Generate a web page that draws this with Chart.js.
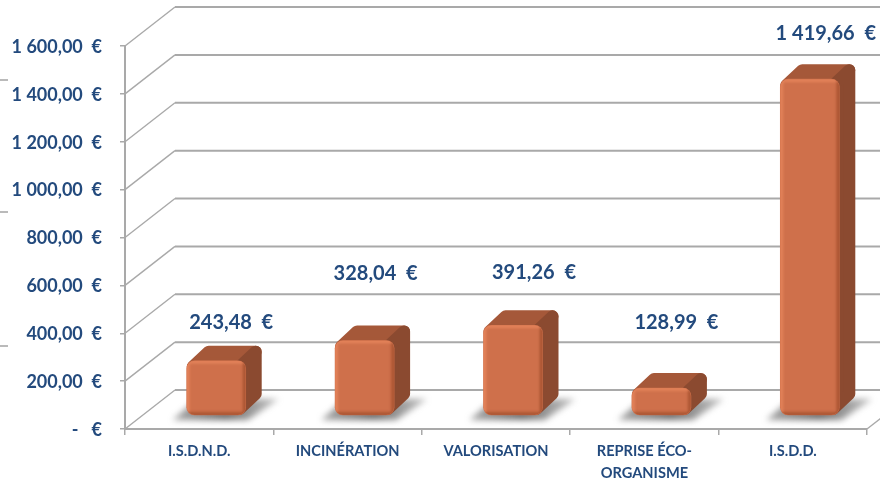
<!DOCTYPE html>
<html>
<head>
<meta charset="utf-8">
<title>Coût par filière</title>
<script src="https://cdn.jsdelivr.net/npm/chart.js@4"></script>
<style>
  html, body { margin: 0; padding: 0; background: #fff; }
  canvas { display: block; filter: blur(0.45px); }
</style>
</head>
<body>
<canvas id="chart" width="891" height="479"></canvas>
<script>
const categories = ['I.S.D.N.D.', 'INCINÉRATION', 'VALORISATION', ['REPRISE ÉCO-', 'ORGANISME'], 'I.S.D.D.'];
const values = [243.48, 328.04, 391.26, 128.99, 1419.66];
const valueLabels = ['243,48  €', '328,04  €', '391,26  €', '128,99  €', '1 419,66  €'];
const yTickLabels = ['-   €', '200,00  €', '400,00  €', '600,00  €', '800,00  €', '1 000,00  €', '1 200,00  €', '1 400,00  €', '1 600,00  €'];

const BLUE = '#234a7d';
const GREY = '#a9a9a9';

// the 3d look: how far the back wall and the bars are pushed
const WALL_DX = 50, WALL_DY = -39;
const BAR_DX = 17, BAR_DY = -10;
const DEPTH_DX = 16, DEPTH_DY = -15;
const RIGHT_EDGE = 880;
// how far each value label sits from its bar
const labelOffsetX = [15, 11, 21, 15, 16];
const labelOffsetY = [-38, -67, -53, -66, -46];

function facePath(ctx, pts) {
  ctx.beginPath();
  pts.forEach((p, i) => i ? ctx.lineTo(p[0], p[1]) : ctx.moveTo(p[0], p[1]));
  ctx.closePath();
}

const wallsAndBoxes = {
  id: 'wallsAndBoxes',
  beforeDatasetsDraw(chart) {
    const ctx = chart.ctx;
    const yScale = chart.scales.y;
    const xScale = chart.scales.x;
    const left = xScale.left, right = xScale.right;

    ctx.save();
    ctx.beginPath();
    ctx.rect(0, 0, RIGHT_EDGE, chart.height);
    ctx.clip();

    // back wall and floor lines
    ctx.strokeStyle = GREY;
    yScale.ticks.forEach((tick) => {
      const y = yScale.getPixelForValue(tick.value);
      ctx.lineWidth = 1.4;
      ctx.beginPath();
      ctx.moveTo(left, y);
      ctx.lineTo(left + WALL_DX, y + WALL_DY);
      ctx.stroke();
      ctx.lineWidth = 2;
      ctx.beginPath();
      ctx.moveTo(left + WALL_DX, y + WALL_DY);
      ctx.lineTo(right + WALL_DX, y + WALL_DY);
      ctx.stroke();
    });
    const y0 = yScale.getPixelForValue(0);
    ctx.lineWidth = 1.4;
    ctx.beginPath();
    ctx.moveTo(right, y0);
    ctx.lineTo(right + WALL_DX, y0 + WALL_DY);
    ctx.stroke();
    ctx.restore();

    // small marks left of the picture
    ctx.save();
    ctx.strokeStyle = '#8c8c8c';
    ctx.lineWidth = 1.2;
    [80, 212, 346].forEach((y) => {
      ctx.beginPath();
      ctx.moveTo(0, y);
      ctx.lineTo(8, y);
      ctx.stroke();
    });
    ctx.restore();

    chart.getDatasetMeta(0).data.forEach((bar) => {
      const l = bar.x - bar.width / 2 + BAR_DX;
      const r = bar.x + bar.width / 2 + BAR_DX;
      const t = bar.y + BAR_DY;
      const b = bar.base + BAR_DY;

      // shadow on the floor, fades out towards the back right
      ctx.save();
      ctx.filter = 'blur(3px)';
      const shade = ctx.createLinearGradient(l - 14, 0, r + 33, 0);
      shade.addColorStop(0, 'rgba(95,95,95,0.55)');
      shade.addColorStop(0.5, 'rgba(85,85,85,0.85)');
      shade.addColorStop(1, 'rgba(120,120,120,0.45)');
      ctx.fillStyle = shade;
      facePath(ctx, [[l - 14, b + 5], [r + 2, b + 5], [r + 33, b - 16], [r - 4, b - 16], [l + 8, b - 14]]);
      ctx.fill();
      ctx.restore();

      // top and side faces
      ctx.save();
      ctx.lineJoin = 'round';
      ctx.lineWidth = 12;
      const inset = 6;
      ctx.fillStyle = ctx.strokeStyle = '#a55839';
      facePath(ctx, [[l + inset, t + inset], [r - inset, t + inset], [r + DEPTH_DX - inset, t + DEPTH_DY + inset], [l + DEPTH_DX + inset, t + DEPTH_DY + inset]]);
      ctx.fill();
      ctx.stroke();
      ctx.fillStyle = ctx.strokeStyle = '#8b4a30';
      facePath(ctx, [[r - inset, t + inset], [r + DEPTH_DX - inset, t + DEPTH_DY + inset], [r + DEPTH_DX - inset, b + DEPTH_DY - inset], [r - inset, b - inset]]);
      ctx.fill();
      ctx.stroke();
      ctx.restore();
    });
  },
  beforeDatasetDraw(chart) {
    chart.ctx.save();
    chart.ctx.translate(BAR_DX, BAR_DY);
  },
  afterDatasetDraw(chart) {
    const ctx = chart.ctx;
    // soft bevel over the front faces
    chart.getDatasetMeta(0).data.forEach((bar) => {
      const l = bar.x - bar.width / 2;
      const w = bar.width;
      const t = bar.y;
      const h = bar.base - bar.y;
      ctx.save();
      ctx.beginPath();
      ctx.roundRect(l, t, w, h, 8);
      ctx.clip();
      ctx.filter = 'blur(1.5px)';
      ctx.lineWidth = 3;
      ctx.strokeStyle = '#a04e2c';
      ctx.beginPath();
      ctx.moveTo(l, bar.base - 1);
      ctx.lineTo(l + w, bar.base - 1);
      ctx.moveTo(l + w - 1, t);
      ctx.lineTo(l + w - 1, bar.base);
      ctx.stroke();
      ctx.strokeStyle = '#e8875d';
      ctx.beginPath();
      ctx.moveTo(l + 1, bar.base - 3);
      ctx.lineTo(l + 1, t + 1);
      ctx.lineTo(l + w - 2, t + 1);
      ctx.stroke();
      ctx.restore();
    });
    ctx.restore();
  },
  afterDatasetsDraw(chart) {
    const ctx = chart.ctx;
    ctx.save();
    ctx.fillStyle = BLUE;
    ctx.font = 'bold 20px Lato';
    ctx.textAlign = 'center';
    ctx.textBaseline = 'middle';
    chart.getDatasetMeta(0).data.forEach((bar, i) => {
      ctx.fillText(valueLabels[i], bar.x + labelOffsetX[i] + BAR_DX, bar.y + BAR_DY + labelOffsetY[i]);
    });
    ctx.restore();
  }
};

new Chart(document.getElementById('chart'), {
  type: 'bar',
  data: {
    labels: categories,
    datasets: [{
      data: values,
      base: 17, // the box stands a little in from the front edge of the floor
      backgroundColor: '#cf704b',
      borderRadius: 8,
      borderSkipped: false,
      barThickness: 59
    }]
  },
  plugins: [wallsAndBoxes],
  options: {
    responsive: false,
    animation: false,
    layout: { padding: { top: 46, right: 24, bottom: 0, left: 0 } },
    plugins: {
      legend: { display: false },
      tooltip: { enabled: false }
    },
    scales: {
      x: {
        afterFit: (scale) => { scale.height = 50; },
        border: { color: GREY, width: 2 },
        grid: { offset: true, drawOnChartArea: false, color: GREY, lineWidth: 1.5, tickLength: 6 },
        ticks: {
          color: BLUE,
          font: { family: 'Lato', size: 14.6, weight: 'bold', lineHeight: 1.5 },
          padding: 5,
          maxRotation: 0,
          autoSkip: false
        }
      },
      y: {
        min: 0,
        max: 1600,
        afterFit: (scale) => { scale.width = 125; },
        border: { color: GREY, width: 2 },
        grid: { drawOnChartArea: false, color: GREY, lineWidth: 1.5, tickLength: 5 },
        ticks: {
          stepSize: 200,
          color: BLUE,
          font: { family: 'Lato', size: 18, weight: 'bold' },
          padding: 18,
          labelOffset: 1,
          callback: (value) => yTickLabels[value / 200]
        }
      }
    }
  }
});
</script>
</body>
</html>
